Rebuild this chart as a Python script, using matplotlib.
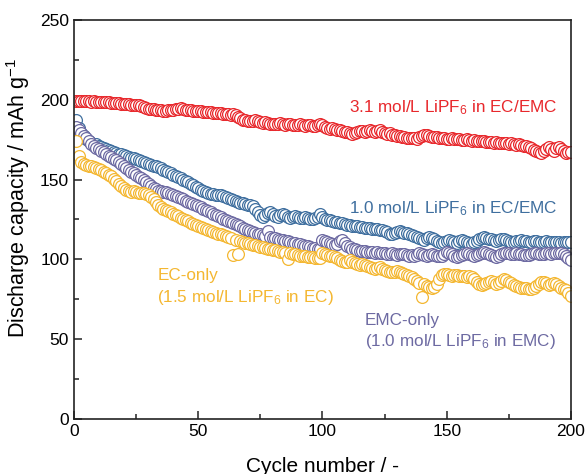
import matplotlib
matplotlib.use('Agg')
import matplotlib.pyplot as plt
import numpy as np

plt.rcParams['font.family'] = ['Liberation Sans', 'DejaVu Sans']
plt.rcParams['mathtext.fontset'] = 'custom'
plt.rcParams['mathtext.rm'] = 'Liberation Sans'
plt.rcParams['mathtext.it'] = 'Liberation Sans'

# datos (capacidad de descarga por ciclo, ciclos 1-200)
ciclos = np.arange(1, 201)

cap_31_ec_emc = [
    199.0, 199.4, 199.2, 199.3, 199.0, 199.1, 198.8, 198.9, 198.6, 198.7,
    198.5, 198.4, 198.3, 198.5, 198.1, 198.0, 197.8, 197.9, 197.6, 197.5,
    197.4, 197.3, 197.0, 196.6, 196.8, 196.5, 196.0, 195.4, 194.8, 194.5,
    194.2, 194.0, 193.8, 193.5, 193.6, 193.2, 193.0, 193.3, 193.5, 193.8,
    194.0, 194.4, 194.6, 194.2, 193.8, 193.4, 193.6, 193.2, 193.0, 192.8,
    192.9, 192.6, 192.4, 192.5, 192.2, 191.9, 191.7, 191.8, 191.5, 191.2,
    191.0, 190.8, 190.5, 190.9, 190.2, 189.4, 188.5, 187.6, 187.0, 186.8,
    186.5, 186.9, 187.2, 186.4, 185.8, 185.5, 185.9, 185.2, 184.8, 185.0,
    184.6, 184.9, 185.2, 184.7, 184.3, 184.6, 184.8, 184.4, 184.0, 184.3,
    184.5, 184.1, 183.8, 184.0, 184.2, 183.7, 183.5, 183.9, 184.6, 184.0,
    183.2, 182.6, 181.8, 182.4, 181.5, 180.8, 181.2, 180.2, 179.5, 179.8,
    179.2, 178.8, 179.4, 180.0, 180.6, 180.2, 179.6, 180.4, 181.0, 180.5,
    179.8, 180.2, 180.9, 179.9, 179.2, 178.6, 179.0, 178.2, 177.8, 177.5,
    177.0, 176.6, 176.9, 176.3, 176.0, 175.8, 176.2, 175.6, 176.4, 177.4,
    178.2, 178.0, 177.2, 176.8, 176.4, 176.6, 176.2, 175.9, 176.1, 175.7,
    175.5, 175.8, 175.3, 175.1, 175.4, 175.0, 174.8, 175.1, 174.6, 174.4,
    174.7, 174.2, 174.0, 174.3, 173.9, 173.6, 173.8, 173.4, 173.2, 173.5,
    173.0, 172.8, 173.1, 172.6, 172.4, 172.7, 172.1, 171.8, 172.0, 171.4,
    170.8, 171.2, 170.2, 169.5, 168.4, 167.6, 167.0, 166.4, 167.8, 169.0,
    170.2, 169.4, 168.0, 169.8, 170.6, 169.2, 167.8, 166.6, 167.4, 167.0,
]

cap_10_ec_emc = [
    187.0, 182.5, 179.0, 177.0, 175.5, 174.0, 173.0, 172.5, 172.0, 171.2,
    170.5, 169.8, 169.0, 168.6, 168.0, 167.5, 166.8, 166.2, 165.8, 165.2,
    164.6, 164.2, 163.8, 163.4, 163.0, 162.4, 161.8, 161.2, 160.6, 160.0,
    159.4, 158.8, 158.2, 157.6, 157.0, 156.2, 155.4, 154.6, 153.8, 153.0,
    152.4, 151.6, 150.8, 150.0, 149.2, 148.4, 147.4, 146.6, 145.6, 144.8,
    143.6, 142.8, 142.0, 141.4, 141.0, 140.8, 140.4, 140.6, 140.2, 139.8,
    139.2, 138.4, 137.8, 137.2, 136.8, 136.2, 135.6, 135.0, 134.6, 134.2,
    133.8, 133.4, 131.8, 129.6, 127.6, 126.8, 127.8, 129.2, 129.6, 128.4,
    127.2, 126.6, 127.8, 128.4, 127.6, 126.8, 126.2, 126.6, 127.0, 126.4,
    126.0, 125.8, 126.4, 126.0, 125.6, 125.2, 125.8, 126.6, 128.2, 126.8,
    125.6, 124.8, 124.4, 124.0, 123.6, 123.2, 122.8, 122.6, 122.2, 121.8,
    121.6, 121.2, 120.8, 120.6, 120.4, 120.2, 119.8, 119.6, 119.4, 119.2,
    119.0, 118.8, 118.6, 118.2, 117.8, 117.0, 116.2, 115.6, 116.4, 117.2,
    117.8, 117.0, 116.4, 116.8, 116.0, 115.2, 114.6, 114.0, 113.2, 112.8,
    112.4, 113.2, 114.0, 113.4, 112.6, 111.8, 111.0, 110.4, 110.8, 111.6,
    112.4, 111.8, 111.0, 110.4, 111.2, 112.2, 111.6, 110.8, 110.2, 109.8,
    110.6, 111.8, 112.8, 113.4, 113.8, 113.4, 113.0, 112.6, 112.2, 111.8,
    112.4, 113.0, 112.6, 112.0, 111.4, 111.0, 110.6, 111.2, 111.8, 112.2,
    111.8, 111.2, 110.8, 111.0, 111.4, 111.2, 110.8, 110.6, 111.0, 111.2,
    110.8, 110.6, 110.8, 111.0, 110.6, 110.4, 110.8, 110.6, 110.8, 111.0,
]

cap_emc = [
    183.0, 181.0, 179.0, 177.5, 176.0, 174.0, 172.5, 171.0, 170.0, 169.0,
    168.0, 167.0, 166.0, 165.0, 164.0, 163.0, 162.0, 161.0, 159.8, 158.6,
    157.4, 156.2, 155.0, 153.8, 152.8, 151.8, 150.8, 149.6, 148.4, 147.0,
    145.8, 144.8, 143.8, 143.0, 142.6, 142.2, 142.0, 141.6, 141.0, 140.4,
    139.8, 139.2, 138.4, 137.6, 136.8, 136.2, 135.6, 134.8, 134.0, 133.2,
    132.6, 131.8, 131.0, 130.2, 129.4, 128.6, 127.8, 127.2, 126.4, 125.6,
    124.8, 124.0, 123.2, 122.6, 122.0, 121.4, 120.6, 119.8, 119.0, 118.2,
    117.6, 117.0, 116.4, 116.0, 115.6, 115.0, 114.6, 118.0, 114.2, 113.6,
    113.2, 112.8, 112.4, 112.0, 111.6, 111.2, 110.8, 110.4, 110.0, 109.8,
    109.4, 109.0, 108.6, 108.2, 107.8, 107.4, 107.0, 106.6, 106.2, 112.4,
    111.6, 110.8, 110.0, 109.4, 108.8, 109.6, 111.4, 112.2, 110.0, 108.4,
    107.6, 106.8, 106.2, 105.8, 105.4, 105.2, 105.0, 104.8, 104.6, 104.4,
    104.2, 104.4, 104.0, 103.8, 104.0, 103.6, 103.4, 103.8, 103.2, 102.8,
    103.2, 103.6, 103.2, 102.8, 102.4, 102.6, 102.2, 103.0, 103.8, 103.4,
    102.8, 102.4, 102.8, 103.2, 102.6, 102.2, 101.8, 102.4, 103.4, 104.6,
    104.2, 103.2, 102.4, 101.6, 101.8, 102.6, 103.4, 103.8, 103.2, 102.6,
    102.2, 102.6, 103.4, 104.2, 104.6, 104.0, 103.4, 102.6, 102.0, 101.6,
    102.4, 103.2, 103.8, 104.2, 103.8, 103.4, 103.6, 104.0, 103.6, 103.2,
    102.8, 102.6, 103.0, 103.4, 103.8, 104.0, 103.6, 103.2, 103.6, 104.0,
    103.8, 103.4, 103.8, 104.2, 104.0, 103.8, 103.2, 102.0, 100.6, 99.6,
]

cap_ec = [
    174.0, 165.0, 161.0, 159.5, 159.0, 158.5, 158.2, 157.8, 157.2, 156.6,
    156.0, 155.0, 154.0, 153.0, 152.0, 150.6, 149.0, 147.4, 146.0, 144.6,
    143.6, 142.8, 142.4, 142.6, 142.2, 141.8, 141.4, 141.8, 141.2, 140.4,
    139.0, 137.6, 135.8, 134.0, 132.6, 131.6, 130.8, 130.0, 129.4, 128.6,
    127.8, 127.0, 126.2, 125.4, 124.6, 123.8, 123.0, 122.2, 121.6, 121.0,
    120.4, 119.8, 119.2, 118.6, 118.0, 117.4, 116.8, 116.2, 115.6, 115.0,
    114.4, 113.8, 113.2, 103.0, 112.0, 103.2, 111.4, 110.8, 110.4, 110.0,
    109.6, 109.2, 108.8, 108.4, 108.0, 107.6, 107.2, 106.8, 106.4, 106.0,
    105.6, 105.2, 104.8, 104.6, 104.2, 100.2, 104.0, 103.6, 103.2, 102.8,
    102.4, 102.0, 101.8, 101.6, 101.4, 101.2, 101.0, 100.8, 100.6, 104.2,
    103.6, 103.0, 102.4, 102.0, 101.4, 100.6, 99.8, 99.0, 98.2, 98.6,
    99.4, 98.6, 97.8, 97.0, 96.4, 96.8, 96.2, 95.6, 95.0, 94.6,
    94.2, 94.6, 95.0, 94.2, 93.4, 92.8, 92.2, 91.8, 92.4, 92.8,
    92.2, 91.6, 90.8, 90.2, 89.6, 88.8, 87.8, 86.6, 85.4, 76.2,
    84.6, 83.6, 82.8, 82.2, 83.0, 84.8, 87.6, 90.2, 91.0, 90.6,
    90.2, 89.8, 90.2, 90.0, 89.6, 89.8, 89.4, 89.2, 89.4, 88.8,
    87.6, 86.0, 84.6, 84.2, 84.6, 85.2, 85.8, 86.2, 85.6, 84.8,
    85.4, 86.6, 87.4, 86.8, 85.8, 85.0, 84.2, 83.2, 82.6, 82.0,
    81.8, 82.2, 81.6, 81.2, 82.0, 83.2, 84.6, 85.6, 86.0, 85.0,
    84.2, 84.8, 85.4, 84.6, 83.4, 82.2, 81.4, 80.6, 79.2, 76.8,
]

rojo = '#e8282c'
azul = '#3f6f9f'
morado = '#6d6aa2'
amarillo = '#f4b731'

fig = plt.figure(figsize=(5.85, 4.74), dpi=100)
ax = fig.add_axes([0.1265, 0.116, 0.8495, 0.842])

estilo = dict(ls='none', marker='o', ms=8.5, mfc='white', mew=0.9)
ax.plot(ciclos, cap_31_ec_emc, mec=rojo, **estilo)
ax.plot(ciclos, cap_10_ec_emc, mec=azul, **estilo)
ax.plot(ciclos, cap_emc, mec=morado, **estilo)
ax.plot(ciclos, cap_ec, mec=amarillo, **estilo)

ax.set_xlim(0, 200)
ax.set_ylim(0, 250)
ax.set_xticks([0, 50, 100, 150, 200])
ax.set_yticks([0, 50, 100, 150, 200, 250])
ax.set_xticks(np.arange(25, 200, 50), minor=True)
ax.set_yticks(np.arange(25, 250, 50), minor=True)
ax.tick_params(which='both', direction='in', top=False, right=False,
               labelsize=12.5, width=1.1, color='#222222')
ax.tick_params(which='major', length=6)
ax.tick_params(which='minor', length=3.5)
for s in ax.spines.values():
    s.set_linewidth(1.2)
    s.set_color('#222222')

ax.set_xlabel('Cycle number / -', fontsize=15)
ax.set_ylabel('Discharge capacity / mAh g$^{-1}$', fontsize=15.5)
ax.xaxis.set_label_coords(0.5, -0.095)
ax.yaxis.set_label_coords(-0.084, 0.555)

ax.text(194.5, 195, '3.1 mol/L LiPF$_6$ in EC/EMC', color=rojo,
        fontsize=12.3, ha='right', va='center')
ax.text(194.5, 131.5, '1.0 mol/L LiPF$_6$ in EC/EMC', color=azul,
        fontsize=12.3, ha='right', va='center')
ax.text(33.5, 90, 'EC-only', color=amarillo, fontsize=12.3, va='center')
ax.text(33.5, 76, '(1.5 mol/L LiPF$_6$ in EC)', color=amarillo,
        fontsize=12.3, va='center')
ax.text(117, 62, 'EMC-only', color=morado, fontsize=12.3, va='center')
ax.text(117, 48.5, '(1.0 mol/L LiPF$_6$ in EMC)', color=morado,
        fontsize=12.3, va='center')

plt.savefig('out.png', dpi=100)
